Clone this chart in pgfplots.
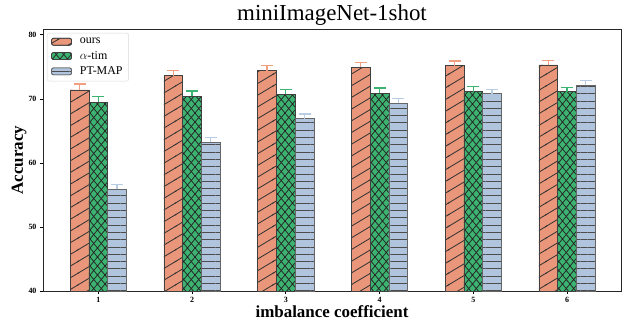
\documentclass[border=0pt]{standalone}
\usepackage{fontspec}
\setmainfont{Liberation Serif}
\usepackage{pgfplots}
\pgfplotsset{compat=1.18}
\usetikzlibrary{patterns,patterns.meta}
\pgfdeclarepatternformonly{ourslines}{\pgfqpoint{-1bp}{-1bp}}{\pgfqpoint{20.5bp}{12.7bp}}{\pgfqpoint{19.5bp}{11.7bp}}{%
  \pgfsetlinewidth{0.8bp}%
  \pgfpathmoveto{\pgfqpoint{-1bp}{-0.6bp}}%
  \pgfpathlineto{\pgfqpoint{20.5bp}{12.3bp}}%
  \pgfusepath{stroke}}
\pgfdeclarepatternformonly{timcross}{\pgfqpoint{-1bp}{-1bp}}{\pgfqpoint{8.5bp}{10bp}}{\pgfqpoint{7.5bp}{9bp}}{%
  \pgfsetlinewidth{0.75bp}%
  \pgfpathmoveto{\pgfqpoint{-0.5bp}{-0.6bp}}%
  \pgfpathlineto{\pgfqpoint{8bp}{9.6bp}}%
  \pgfpathmoveto{\pgfqpoint{-0.5bp}{9.6bp}}%
  \pgfpathlineto{\pgfqpoint{8bp}{-0.6bp}}%
  \pgfusepath{stroke}}
\definecolor{cOurs}{HTML}{E9967A}
\definecolor{cTim}{HTML}{3CB371}
\definecolor{cPT}{HTML}{B0C4DE}
\definecolor{eOurs}{HTML}{F0A080}
\definecolor{eTim}{HTML}{3CB371}
\definecolor{ePT}{HTML}{B8CCE4}
\begin{document}
\begin{tikzpicture}
\begin{axis}[
  name=ax,
  ybar,
  scale only axis,
  width=578bp, height=262bp,
  xmin=0.41, xmax=6.576,
  ymin=40, ymax=80.9,
  xtick={1,2,3,4,5,6},
  ytick={40,50,60,70,80},
  xtick pos=bottom, ytick pos=left,
  tick align=outside,
  major tick length=3bp,
  tick style={black, line width=0.6bp},
  axis line style={black!85, line width=0.9bp},
  /pgf/number format/assume math mode=true,
  ticklabel style={font=\bfseries\fontsize{8}{9}\selectfont},
  title={miniImageNet-1shot},
  title style={font=\fontsize{23}{27}\selectfont, at={(axis description cs:0.5,1)}, anchor=base, yshift=3bp},
  xlabel={imbalance coefficient},
  ylabel={Accuracy},
  every axis x label/.style={at={(axis description cs:0.5,0)}, anchor=base, yshift=-26.5bp, font=\bfseries\fontsize{17}{20}\selectfont},
  every axis y label/.style={at={(axis description cs:0,0.5)}, rotate=90, anchor=center, yshift=24bp, font=\bfseries\fontsize{17}{20}\selectfont},
  legend style={at={(axis description cs:0,1)}, anchor=north west, xshift=4bp, yshift=-4bp,
    draw=black!15, rounded corners=2bp, font=\fontsize{12}{12}\selectfont,
    inner xsep=4bp, inner ysep=3bp, row sep=2bp, fill=white,
    /tikz/every odd column/.append style={column sep=6bp}},
  legend cell align=left,
  legend image code/.code={\draw[#1] (0bp,-3.5bp) rectangle (20bp,3.5bp);},
  bar width=0.2,
]
\addplot[bar shift=-0.2, fill=cOurs, draw=black!75, line width=0.7bp,
  postaction={pattern=ourslines, pattern color=black!80},
  error bars/.cd, y dir=plus, y explicit,
  error bar style={color=eOurs, line width=1.4bp},
  error mark options={rotate=90, mark size=6bp, color=eOurs, line width=1.4bp}]
coordinates {(1,71.4)+-(0,0.9) (2,73.6)+-(0,0.8) (3,74.4)+-(0,0.8) (4,74.95)+-(0,0.75) (5,75.2)+-(0,0.7) (6,75.3)+-(0,0.7)};
\addlegendentry{ours}
\addplot[bar shift=0, fill=cTim, draw=black!75, line width=0.7bp,
  postaction={pattern=timcross, pattern color=black!85},
  error bars/.cd, y dir=plus, y explicit,
  error bar style={color=eTim, line width=1.4bp},
  error mark options={rotate=90, mark size=6bp, color=eTim, line width=1.4bp}]
coordinates {(1,69.5)+-(0,0.9) (2,70.4)+-(0,0.8) (3,70.7)+-(0,0.8) (4,70.9)+-(0,0.8) (5,71.1)+-(0,0.8) (6,71.1)+-(0,0.7)};
\addlegendentry{$\alpha$-tim}
\addplot[bar shift=0.2, fill=cPT, draw=black!60, line width=0.7bp,
  postaction={pattern color=black!70, pattern={Lines[angle=0,distance=7.3bp,line width=0.8bp]}},
  error bars/.cd, y dir=plus, y explicit,
  error bar style={color=ePT, line width=1.4bp},
  error mark options={rotate=90, mark size=6bp, color=ePT, line width=1.4bp}]
coordinates {(1,55.9)+-(0,0.7) (2,63.2)+-(0,0.8) (3,66.9)+-(0,0.7) (4,69.3)+-(0,0.75) (5,70.8)+-(0,0.7) (6,72.1)+-(0,0.8)};
\addlegendentry{PT-MAP}
\end{axis}
\pgfresetboundingbox
\useasboundingbox ([shift={(-43bp,-29bp)}]ax.south west) rectangle ([shift={(1bp,29bp)}]ax.north east);
\end{tikzpicture}
\end{document}
